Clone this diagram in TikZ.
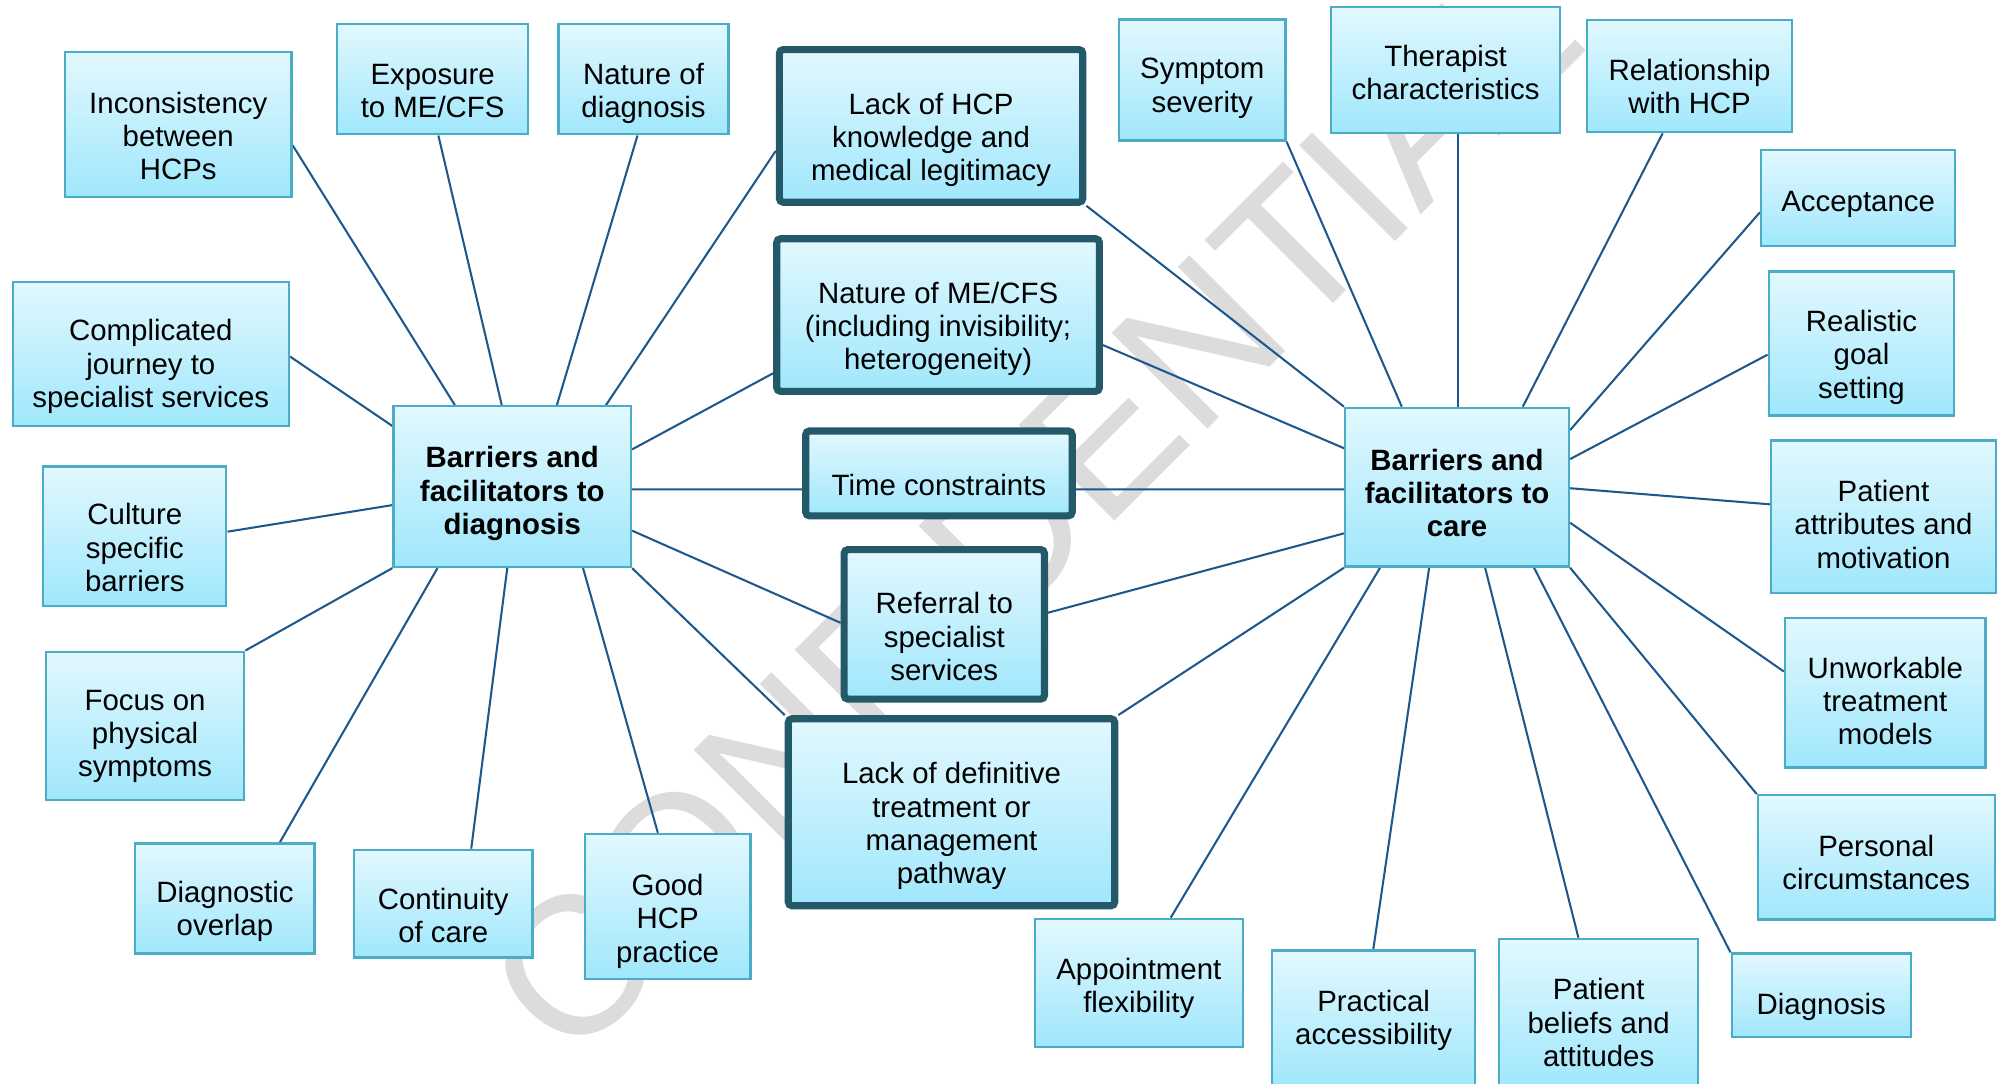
\documentclass[tikz,border=0pt]{standalone}
\usepackage{fontspec}
\setmainfont{Liberation Sans}
\usetikzlibrary{calc}
\definecolor{boxtop}{RGB}{226,248,254}
\definecolor{boxbot}{RGB}{160,231,252}
\definecolor{thinbd}{RGB}{75,172,198}
\definecolor{thickbd}{RGB}{35,89,104}
\definecolor{conncol}{RGB}{28,88,140}
\definecolor{wmgray}{RGB}{220,220,220}
\newcommand\bxt[2]{\raisebox{\dimexpr -#1pt/2 - 3.275pt\relax}[0pt][0pt]{\begin{tabular}{@{}c@{}}#2\end{tabular}}}
\pgfdeclarelayer{bg}
\pgfsetlayers{bg,main}
\tikzset{
  leafbox/.style 2 args={draw=thinbd, line width=0.9pt, top color=boxtop, bottom color=boxbot, inner sep=0pt,
    minimum width={#1*0.5pt-0.9pt}, minimum height={#2*0.5pt-0.9pt}, font=\fontsize{11.5}{13}\selectfont},
  hubbox/.style 2 args={leafbox={#1}{#2}, font=\fontsize{11.5}{13}\selectfont\bfseries},
  keybox/.style 2 args={draw=thickbd, line width=2.8pt, rounded corners=1.5pt, top color=boxtop, bottom color=boxbot, inner sep=0pt,
    minimum width={#1*0.5pt-2.8pt}, minimum height={#2*0.5pt-2.8pt}, font=\fontsize{11.5}{13}\selectfont},
  conn/.style={draw=conncol, line width=0.8pt},
  wmark/.style={rotate=45, text=wmgray, inner sep=0pt, font=\fontsize{77}{77}\selectfont}
}
\begin{document}
\begin{tikzpicture}[x=0.5pt,y=-0.5pt]
\useasboundingbox (0,0) rectangle (1568,848);

% left group
\node[leafbox={179}{115}] (inc) at (139.5,97.5) {\bxt{11.5}{Inconsistency\\between\\HCPs}};
\node[leafbox={151}{88}] (exp) at (338.5,62) {\bxt{11}{Exposure\\to ME/CFS}};
\node[leafbox={135}{88}] (natd) at (503.5,62) {\bxt{11}{Nature of\\diagnosis}};
\node[leafbox={218}{114}] (cj) at (118,277) {\bxt{10}{Complicated\\journey to\\specialist services}};
\node[leafbox={145}{111}] (cul) at (105.5,419.5) {\bxt{11.5}{Culture\\specific\\barriers}};
\node[leafbox={157}{118}] (foc) at (113.5,568) {\bxt{8}{Focus on\\physical\\symptoms}};
\node[leafbox={142}{88}] (dov) at (176,703) {\bxt{10.5}{Diagnostic\\overlap}};
\node[leafbox={141.6}{86}] (cont) at (346.8,707) {\bxt{12}{Continuity\\of care}};
\node[leafbox={131.3}{115.2}] (good) at (522.35,709.2) {\bxt{11.8}{Good\\HCP\\practice}};
\node[hubbox={187.6}{127.5}] (hubd) at (400.8,380.75) {\bxt{5.6}{Barriers and\\facilitators to\\diagnosis}};

% shared (thick) boxes
\node[keybox={243}{125}] (lhcp) at (728.5,98.5) {\bxt{11}{Lack of HCP\\knowledge and\\medical legitimacy}};
\node[keybox={258}{125}] (nme) at (734,246.5) {\bxt{11}{Nature of ME/CFS\\(including invisibility;\\heterogeneity)}};
\node[keybox={214.1}{72}] (time) at (734.65,370.4) {\bxt{11.6}{Time constraints}};
\node[keybox={162.3}{122.6}] (ref) at (738.85,488.5) {\bxt{12}{Referral to\\specialist\\services}};
\node[keybox={261}{152}] (ldef) at (744.5,635.5) {\bxt{11}{Lack of definitive\\treatment or\\management\\pathway}};

% right group
\node[hubbox={176.9}{126}] (hubc) at (1140.05,381.2) {\bxt{6.8}{Barriers and\\facilitators to\\care}};
\node[leafbox={132}{96.6}] (sym) at (940.7,62.6) {\bxt{6.4}{Symptom\\severity}};
\node[leafbox={181}{100.2}] (ther) at (1131.1,54.8) {\bxt{4.5}{Therapist\\characteristics}};
\node[leafbox={162.4}{89.4}] (rel) at (1322,59.6) {\bxt{10.7}{Relationship\\with HCP}};
\node[leafbox={153.7}{76.9}] (acc) at (1453.85,155.05) {\bxt{4.7}{Acceptance}};
\node[leafbox={147}{114.5}] (real) at (1456.5,268.85) {\bxt{10.8}{Realistic\\goal\\setting}};
\node[leafbox={177.4}{121}] (patt) at (1473.7,404.2) {\bxt{8.5}{Patient\\attributes and\\motivation}};
\node[leafbox={158.8}{118.8}] (unw) at (1475.1,542) {\bxt{9}{Unworkable\\treatment\\models}};
\node[leafbox={187.1}{99.1}] (pers) at (1468.05,670.85) {\bxt{6.6}{Personal\\circumstances}};
\node[leafbox={142}{67.2}] (diag) at (1425,778.8) {\bxt{9.5}{Diagnosis}};
\node[leafbox={157.5}{118.3}] (pbel) at (1250.85,792.85) {\bxt{9.75}{Patient\\beliefs and\\attitudes}};
\node[leafbox={160.9}{109.2}] (prac) at (1074.75,797.4) {\bxt{1.3}{Practical\\accessibility}};
\node[leafbox={164.5}{102.3}] (appt) at (891.05,769.15) {\bxt{4.1}{Appointment\\flexibility}};

\begin{pgfonlayer}{bg}
\fill[white] (0,0) rectangle (1568,848);
\node[wmark] (wm) at (808,397.5) {CONFIDENTIAL};
% diagnosis hub
\draw[conn] ($(hubd.north west)+(48.9,0)$) -- ($(inc.north east)+(0,73.7)$);
\draw[conn] ($(hubd.north west)+(85.6,0)$) -- ($(exp.south west)+(80,0)$);
\draw[conn] ($(hubd.north west)+(128.7,0)$) -- ($(natd.south west)+(62.8,0)$);
\draw[conn] ($(hubd.north west)+(167.1,0)$) -- ($(lhcp.north west)+(0,82)$);
\draw[conn] ($(hubd.north west)+(0,16.3)$) -- ($(cj.north east)+(0,59)$);
\draw[conn] ($(hubd.north west)+(0,78.2)$) -- ($(cul.north east)+(0,52)$);
\draw[conn] (hubd.south west) -- (foc.north east);
\draw[conn] ($(hubd.south west)+(35.3,0)$) -- ($(dov.north west)+(114,0)$);
\draw[conn] ($(hubd.south west)+(89.9,0)$) -- ($(cont.north west)+(92.7,0)$);
\draw[conn] ($(hubd.south west)+(149.2,0)$) -- ($(good.north west)+(58,0)$);
\draw[conn] ($(hubd.north east)+(0,34.6)$) -- ($(nme.north west)+(0,108)$);
\draw[conn] ($(hubd.north east)+(0,65.9)$) -- ($(time.north west)+(0,48.5)$);
\draw[conn] ($(hubd.north east)+(0,98.2)$) -- ($(ref.north west)+(0,60.1)$);
\draw[conn] (hubd.south east) -- (ldef.north west);
% care hub
\draw[conn] (lhcp.south east) -- (hubc.north west);
\draw[conn] ($(nme.north east)+(0,86)$) -- ($(hubc.north west)+(0,32.5)$);
\draw[conn] ($(time.north east)+(0,48.5)$) -- ($(hubc.north west)+(0,64.7)$);
\draw[conn] ($(ref.north east)+(0,52.2)$) -- ($(hubc.north west)+(0,99.1)$);
\draw[conn] (ldef.north east) -- (hubc.south west);
\draw[conn] (sym.south east) -- ($(hubc.north west)+(45.2,0)$);
\draw[conn] ($(ther.south west)+(100.4,0)$) -- ($(hubc.north west)+(89.4,0)$);
\draw[conn] ($(rel.south west)+(60.1,0)$) -- ($(hubc.north west)+(139.9,0)$);
\draw[conn] ($(acc.north west)+(0,49.5)$) -- ($(hubc.north east)+(0,18.3)$);
\draw[conn] ($(real.north west)+(0,65.9)$) -- ($(hubc.north east)+(0,41)$);
\draw[conn] ($(patt.north west)+(0,50.9)$) -- ($(hubc.north east)+(0,63.8)$);
\draw[conn] ($(unw.north west)+(0,42.8)$) -- ($(hubc.north east)+(0,90.8)$);
\draw[conn] (pers.north west) -- (hubc.south east);
\draw[conn] (diag.north west) -- ($(hubc.south west)+(148.7,0)$);
\draw[conn] ($(pbel.north west)+(62.9,0)$) -- ($(hubc.south west)+(110.4,0)$);
\draw[conn] ($(prac.north west)+(80.2,0)$) -- ($(hubc.south west)+(66.6,0)$);
\draw[conn] ($(appt.north west)+(107.2,0)$) -- ($(hubc.south west)+(28.2,0)$);
\end{pgfonlayer}
\end{tikzpicture}
\end{document}
